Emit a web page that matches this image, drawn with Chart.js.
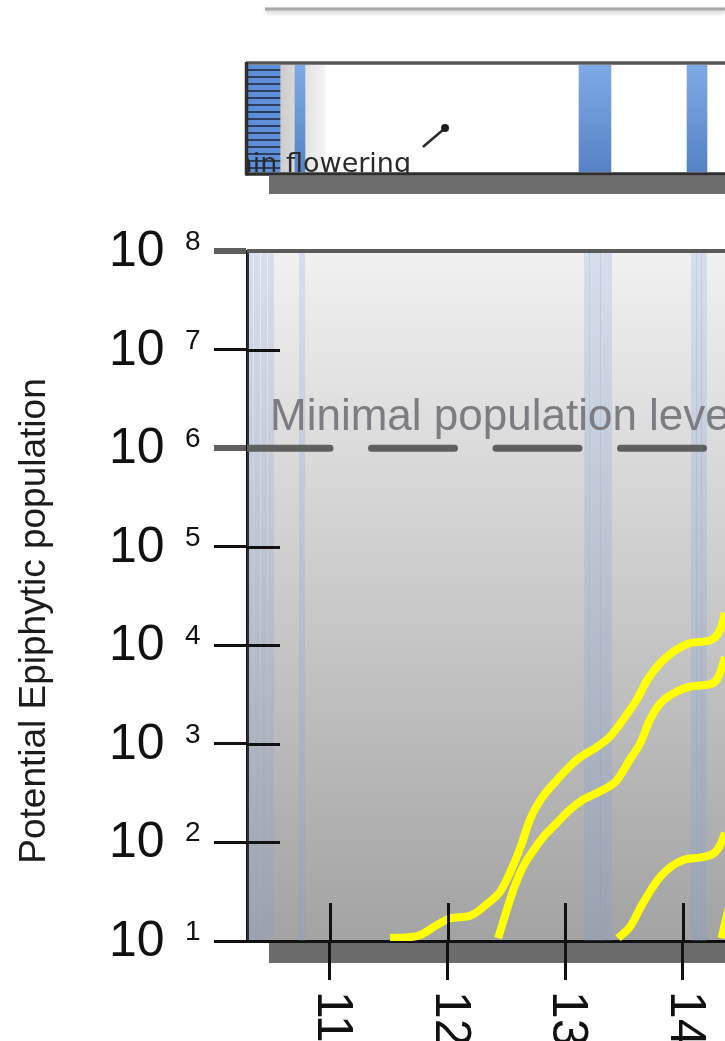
<!DOCTYPE html>
<html>
<head>
<meta charset="utf-8">
<script src="https://cdn.jsdelivr.net/npm/chart.js@4.4.1/dist/chart.umd.min.js"></script>
<style>
  html, body { margin: 0; padding: 0; background: #ffffff; overflow: hidden; }
  #wrap { position: relative; width: 725px; height: 1041px; }
  #wrap canvas { position: absolute; left: 0; top: 0; }
</style>
</head>
<body>
<div id="wrap">
  <canvas id="main" width="725" height="1041"></canvas>
  <canvas id="strip" width="725" height="210"></canvas>
</div>
<script>
// ---- shared day axis ----
const DAY_MIN = 10.294;
const DAY_MAX = 14.36;
const dayTicks = [11, 12, 13, 14];

// ---- population axis (log) ----
const popTicks = [1e1, 1e2, 1e3, 1e4, 1e5, 1e6, 1e7, 1e8];
const POP_MIN = 1e1;
const POP_MAX = 1e8;
const minimalLevel = 1e6;
const minimalLabel = 'Minimal population level';
const yTitle = 'Potential Epiphytic population';

// ---- epiphytic population curves ----
const curve1Days = [11.51, 11.74, 11.91, 12.02, 12.19, 12.34, 12.45, 12.53, 12.62, 12.70, 12.79, 12.93, 13.10, 13.27, 13.38, 13.49, 13.61, 13.70, 13.81, 13.98, 14.09, 14.23, 14.32, 14.36, 14.42];
const curve1Pop  = [10.7, 11.2, 14.5, 17, 18, 24, 32, 49, 89, 170, 270, 430, 690, 930, 1180, 1740, 2820, 4470, 6600, 9550, 10700, 11200, 14500, 21400, 45000];

const curve2Days = [12.43, 12.56, 12.64, 12.73, 12.81, 12.93, 13.04, 13.15, 13.32, 13.44, 13.55, 13.64, 13.72, 13.81, 13.95, 14.06, 14.21, 14.29, 14.36, 14.42];
const curve2Pop  = [10.7, 33, 56, 83, 112, 158, 214, 270, 340, 427, 690, 1020, 1740, 2570, 3390, 3800, 3980, 4470, 7590, 16000];

const curve3Days = [13.45, 13.55, 13.66, 13.81, 14.00, 14.17, 14.29, 14.36, 14.42];
const curve3Pop  = [10.7, 13.8, 24, 45, 66, 71, 83, 126, 300];

const curve4Days = [14.33, 14.42];
const curve4Pop  = [10.7, 30];

// ---- wet periods marked across the plot ----
const wetDays = [10.32, 10.379, 10.439, 10.498, 10.762, 13.186, 13.229, 13.28, 13.322, 13.373, 14.096, 14.139, 14.181];

// ---- flowering strip ----
const flowerStart = [10.702, 13.118, 14.037];
const flowerEnd   = [10.787, 13.39, 14.207];
const earlySpan = [10.294, 10.575];
const fadeSpan  = [10.575, 10.957];
const stripLabel = 'Main flowering';
const pointerDays = [11.79, 11.97];

const SANS = '"Liberation Sans", Arial, Helvetica, sans-serif';

function points(days, values) {
  return days.map((d, i) => ({ x: d, y: values[i] }));
}

// ---------------- main chart ----------------
const yellowCurves = [
  [curve1Days, curve1Pop],
  [curve2Days, curve2Pop],
  [curve3Days, curve3Pop],
  [curve4Days, curve4Pop]
].map(([d, v]) => ({
  data: points(d, v),
  borderColor: '#ffff00',
  borderWidth: 8,
  pointRadius: 0,
  cubicInterpolationMode: 'monotone',
  clip: { left: 4, top: 4, right: 4, bottom: 0 }
}));

const minimalLine = {
  data: [{ x: DAY_MIN, y: minimalLevel }, { x: DAY_MAX, y: minimalLevel }],
  borderColor: '#5f5f5f',
  borderWidth: 7,
  borderDash: [83, 41.5],
  borderCapStyle: 'round',
  pointRadius: 0
};

const wetLines = wetDays.map(d => ({
  data: [{ x: d, y: POP_MIN }, { x: d, y: POP_MAX }],
  borderColor: 'rgba(120, 158, 215, 0.22)',
  borderWidth: 6,
  pointRadius: 0
}));

const heavyTick = v => v === POP_MAX || v === minimalLevel;

const mainDecor = {
  id: 'mainDecor',
  beforeDraw(chart) {
    const { ctx, chartArea: a } = chart;
    ctx.save();
    const g = ctx.createLinearGradient(0, a.top, 0, a.bottom);
    g.addColorStop(0, '#f1f1f1');
    g.addColorStop(1, '#a3a3a3');
    ctx.fillStyle = g;
    ctx.fillRect(a.left, a.top, a.right - a.left, a.bottom - a.top);
    // drop shadow under the base line
    ctx.fillStyle = '#6c6c6c';
    ctx.fillRect(a.left + 22, a.bottom + 2, a.right - a.left, 20);
    ctx.restore();
  },
  afterDatasetsDraw(chart) {
    const { ctx, chartArea: a, scales } = chart;
    ctx.save();
    ctx.font = '44px ' + SANS;
    ctx.fillStyle = '#7c7c82';
    ctx.textAlign = 'left';
    ctx.textBaseline = 'alphabetic';
    ctx.fillText(minimalLabel, a.left + 23, scales.y.getPixelForValue(minimalLevel) - 18);
    ctx.restore();
  },
  afterDraw(chart) {
    const { ctx, chartArea: a, scales } = chart;
    const ys = scales.y, xs = scales.x;
    ctx.save();
    // top frame line
    ctx.strokeStyle = '#5a5a5a';
    ctx.lineWidth = 4;
    ctx.beginPath();
    ctx.moveTo(a.left, a.top);
    ctx.lineTo(a.right, a.top);
    ctx.stroke();

    // inner halves of the tick marks
    ctx.strokeStyle = '#111';
    ctx.lineWidth = 3;
    popTicks.forEach(v => {
      if (heavyTick(v)) return;
      const py = Math.round(ys.getPixelForValue(v)) + 0.5;
      ctx.beginPath();
      ctx.moveTo(a.left, py);
      ctx.lineTo(a.left + 33, py);
      ctx.stroke();
    });
    dayTicks.forEach(d => {
      const px = Math.round(xs.getPixelForValue(d)) + 0.5;
      ctx.beginPath();
      ctx.moveTo(px, a.bottom - 38);
      ctx.lineTo(px, a.bottom);
      ctx.stroke();
    });

    // y tick labels: 10 with raised exponent
    ctx.fillStyle = '#111';
    ctx.textAlign = 'left';
    ctx.textBaseline = 'alphabetic';
    popTicks.forEach(v => {
      const py = ys.getPixelForValue(v);
      ctx.font = '50px ' + SANS;
      ctx.fillText('10', 109, py + 15);
      ctx.font = '28px ' + SANS;
      ctx.fillText(String(Math.round(Math.log10(v))), 185, py - 1);
    });

    // x tick labels, turned to read downwards
    ctx.font = '50px ' + SANS;
    dayTicks.forEach(d => {
      const px = xs.getPixelForValue(d);
      ctx.save();
      ctx.translate(px - 12, 991);
      ctx.rotate(Math.PI / 2);
      ctx.fillText(String(d), 0, 0);
      ctx.restore();
    });

    // y axis title
    ctx.save();
    ctx.font = '37px ' + SANS;
    ctx.fillStyle = '#1c1c1c';
    ctx.textAlign = 'center';
    ctx.translate(45, 621);
    ctx.rotate(-Math.PI / 2);
    ctx.fillText(yTitle, 0, 0);
    ctx.restore();

    ctx.restore();
  }
};

new Chart(document.getElementById('main'), {
  type: 'line',
  data: { datasets: [...yellowCurves, minimalLine, ...wetLines] },
  options: {
    responsive: false,
    animation: false,
    events: [],
    layout: { padding: { top: 251, right: 0, bottom: 0, left: 0 } },
    plugins: { legend: { display: false }, tooltip: { enabled: false } },
    scales: {
      x: {
        type: 'linear',
        min: DAY_MIN,
        max: DAY_MAX,
        afterBuildTicks: s => { s.ticks = dayTicks.map(v => ({ value: v })); },
        afterFit: s => { s.height = 100; },
        ticks: { display: false },
        grid: { drawOnChartArea: false, drawTicks: true, tickLength: 39, color: '#111', lineWidth: 3 },
        border: { display: true, color: '#111', width: 3 }
      },
      y: {
        type: 'logarithmic',
        min: POP_MIN,
        max: POP_MAX,
        afterBuildTicks: s => { s.ticks = popTicks.map(v => ({ value: v })); },
        afterFit: s => { s.width = 247; },
        ticks: { display: false },
        grid: {
          drawOnChartArea: false,
          drawTicks: true,
          tickLength: 33,
          color: c => (c.tick && heavyTick(c.tick.value)) ? '#5f5f5f' : '#111',
          lineWidth: c => (c.tick && heavyTick(c.tick.value)) ? 6 : 3
        },
        border: { display: true, color: '#111', width: 3 }
      }
    }
  },
  plugins: [mainDecor]
});

// ---------------- flowering strip ----------------
function stripePattern() {
  const c = document.createElement('canvas');
  c.width = 8; c.height = 7;
  const g = c.getContext('2d');
  g.fillStyle = '#2d3f60';
  g.fillRect(0, 0, 8, 7);
  g.fillStyle = '#5d90d8';
  g.fillRect(0, 1, 8, 5);
  return g.createPattern(c, 'repeat');
}

function blueFill(ctx) {
  const a = ctx.chart.chartArea;
  if (!a) return '#6a97d6';
  const g = ctx.chart.ctx.createLinearGradient(0, a.top, 0, a.bottom);
  g.addColorStop(0, '#7eaae6');
  g.addColorStop(1, '#5683c5');
  return g;
}

function fadeFill(ctx) {
  const a = ctx.chart.chartArea;
  if (!a) return '#dddddd';
  const xs = ctx.chart.scales.x;
  const g = ctx.chart.ctx.createLinearGradient(xs.getPixelForValue(fadeSpan[0]), 0, xs.getPixelForValue(fadeSpan[1]), 0);
  g.addColorStop(0, '#cbcbcb');
  g.addColorStop(1, '#f4f4f4');
  return g;
}

const stripDatasets = [
  ...flowerStart.map((s, i) => ({ data: [[s, flowerEnd[i]]], backgroundColor: blueFill })),
  { data: [earlySpan], backgroundColor: stripePattern() },
  { data: [fadeSpan], backgroundColor: fadeFill }
];

const stripDecor = {
  id: 'stripDecor',
  beforeDraw(chart) {
    const { ctx, chartArea: a } = chart;
    ctx.save();
    // rule of the panel above
    ctx.strokeStyle = '#a8a8a8';
    ctx.lineWidth = 3;
    ctx.shadowColor = 'rgba(0,0,0,0.25)';
    ctx.shadowBlur = 4;
    ctx.shadowOffsetY = 2;
    ctx.beginPath();
    ctx.moveTo(a.left + 18, 9);
    ctx.lineTo(a.right, 9);
    ctx.stroke();
    ctx.restore();
    ctx.save();
    ctx.fillStyle = '#6d6d6d';
    ctx.fillRect(a.left + 22, a.bottom + 4, a.right - a.left, 18);
    ctx.fillStyle = '#ffffff';
    ctx.fillRect(a.left, a.top, a.right - a.left, a.bottom - a.top);
    ctx.restore();
  },
  afterDatasetsDraw(chart) {
    const { ctx, chartArea: a, scales } = chart;
    ctx.save();
    // pointer
    const x1 = scales.x.getPixelForValue(pointerDays[0]);
    const x2 = scales.x.getPixelForValue(pointerDays[1]);
    ctx.strokeStyle = '#2a2a2a';
    ctx.fillStyle = '#1e1e1e';
    ctx.lineWidth = 2.5;
    ctx.beginPath();
    ctx.moveTo(x1, 147);
    ctx.lineTo(x2, 129);
    ctx.stroke();
    ctx.beginPath();
    ctx.arc(x2 + 1, 128, 4, 0, Math.PI * 2);
    ctx.fill();
    // label, cut by the panel edge
    ctx.beginPath();
    ctx.rect(a.left, a.top, a.right - a.left, a.bottom - a.top + 1);
    ctx.clip();
    ctx.font = '27px "DejaVu Sans", Verdana, sans-serif';
    ctx.fillStyle = '#2a2a2a';
    ctx.textAlign = 'left';
    ctx.textBaseline = 'alphabetic';
    ctx.fillText(stripLabel, 213, 172);
    ctx.restore();
  },
  afterDraw(chart) {
    const { ctx, chartArea: a } = chart;
    ctx.save();
    ctx.lineWidth = 3.5;
    ctx.strokeStyle = '#555555';
    ctx.beginPath();
    ctx.moveTo(a.left - 1, 63);
    ctx.lineTo(a.right, 63);
    ctx.stroke();
    ctx.strokeStyle = '#2e2e2e';
    ctx.beginPath();
    ctx.moveTo(a.left - 1, 174);
    ctx.lineTo(a.right, 174);
    ctx.stroke();
    ctx.beginPath();
    ctx.moveTo(a.left - 0.5, 62);
    ctx.lineTo(a.left - 0.5, 175.5);
    ctx.stroke();
    ctx.restore();
  }
};

new Chart(document.getElementById('strip'), {
  type: 'bar',
  data: { labels: ['flowering'], datasets: stripDatasets },
  options: {
    indexAxis: 'y',
    responsive: false,
    animation: false,
    events: [],
    layout: { padding: { top: 65, right: 0, bottom: 38, left: 247 } },
    plugins: { legend: { display: false }, tooltip: { enabled: false } },
    datasets: { bar: { grouped: false, barPercentage: 1, categoryPercentage: 1, borderWidth: 0 } },
    scales: {
      x: { type: 'linear', min: DAY_MIN, max: DAY_MAX, display: false },
      y: { display: false }
    }
  },
  plugins: [stripDecor]
});
</script>
</body>
</html>
